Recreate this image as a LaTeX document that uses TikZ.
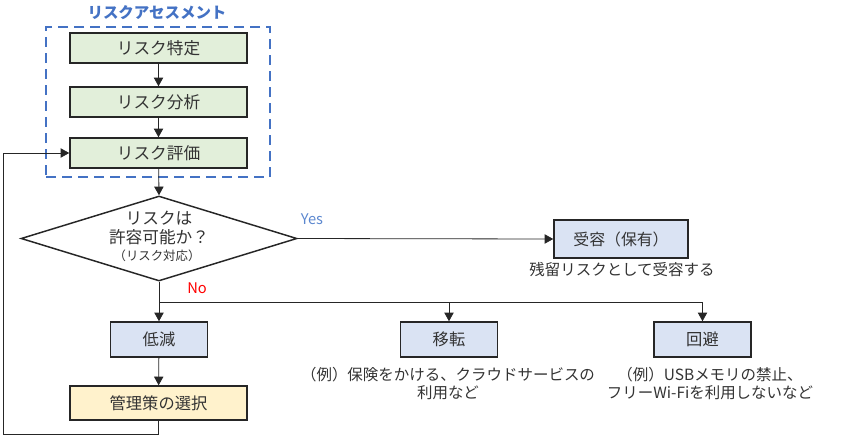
\documentclass[tikz,border=0pt]{standalone}
\usepackage{fontspec}
\setmainfont{Noto Sans CJK JP}
\usetikzlibrary{arrows.meta,shapes.geometric}
\definecolor{txt}{HTML}{333333}
\definecolor{edge}{HTML}{262626}
\definecolor{lgreen}{HTML}{E2EFDA}
\definecolor{lblue}{HTML}{DAE3F3}
\definecolor{lyellow}{HTML}{FFF2CC}
\definecolor{asmblue}{HTML}{4472C4}
\definecolor{yesblue}{HTML}{5B87CF}
\begin{document}
\begin{tikzpicture}[x=0.75pt,y=-0.75pt,
  every node/.style={text=txt, inner sep=0pt},
  gbox/.style={draw=edge, line width=1.1pt, fill=lgreen, minimum width=132.75pt, minimum height=22.5pt, font=\fontsize{12.5pt}{15pt}\selectfont},
  bbox/.style={draw=edge, line width=1.1pt, fill=lblue, minimum width=72.75pt, minimum height=26.25pt, font=\fontsize{12.2pt}{15pt}\selectfont},
  ybox/.style={draw=edge, line width=1.1pt, fill=lyellow, minimum width=132.75pt, minimum height=25.5pt, font=\fontsize{12.2pt}{15pt}\selectfont},
  note/.style={font=\fontsize{11.6pt}{13.5pt}\selectfont, align=center},
  conn/.style={draw=edge, line width=0.6pt, -{Triangle[length=6.5pt,width=7pt]}},
  plain/.style={draw=edge, line width=0.6pt},
  asm/.style={draw=asmblue, line width=1.8pt, dash pattern=on 7.5pt off 4.5pt, minimum width=168pt, minimum height=112.5pt}
]
\useasboundingbox (0,0) rectangle (849,437);
% assessment frame
\node[asm] (frame) at (158,102) {};
\node[text=asmblue, font=\bfseries\fontsize{11.6pt}{14pt}\selectfont] (ttl) at (157,13) {リスクアセスメント};
% green boxes
\node[gbox] (ident) at (158.5,48) {リスク特定};
\node[gbox] (anal) at (158.5,102) {リスク分析};
\node[gbox] (eval) at (158.5,153) {リスク評価};
% diamond
\node[diamond, draw=edge, line width=1.1pt, fill=white, minimum width=207pt, minimum height=63.75pt, inner sep=0pt] (dia) at (159,238.5) {};
\node[font=\fontsize{12.5pt}{15pt}\selectfont] (d1) at (159,218) {リスクは};
\node[font=\fontsize{12.5pt}{15pt}\selectfont] (d2) at (159,237) {許容可能か？};
\node[font=\fontsize{9.3pt}{11pt}\selectfont] (d3) at (157,256) {（リスク対応）};
% accept
\node[bbox, minimum width=100.5pt, minimum height=28.5pt, font=\fontsize{11.9pt}{14pt}\selectfont] (acc) at (621,239) {受容（保有）};
\node[note] (accn) at (622,270) {残留リスクとして受容する};
\node[text=yesblue, font=\fontsize{11pt}{13pt}\selectfont] (yes) at (312,219) {Yes};
\node[text=red, font=\fontsize{11pt}{13pt}\selectfont] (no) at (197,288) {No};
% treatment boxes
\node[bbox] (low) at (159,339.5) {低減};
\node[bbox] (trans) at (449,339.5) {移転};
\node[bbox] (avoid) at (702.5,339.5) {回避};
\node[note] (transn) at (448,384) {（例）保険をかける、クラウドサービスの\\利用など};
\node[note] (avoidn) at (710,384) {（例）USBメモリの禁止、\\フリーWi-Fiを利用しないなど};
\node[ybox] (sel) at (158.5,403) {管理策の選択};
% connectors
\draw[conn] (ident) -- (anal);
\draw[conn] (anal) -- (eval);
\draw[conn] (eval) -- (dia.north);
\draw[conn] (dia.east) -- (acc.west);
\coordinate (br) at (159,302);
\draw[conn] (dia.south) -- (low.north);
\draw[conn] (br) -| (trans.north);
\draw[conn] (br) -| (avoid.north);
\draw[conn] (low) -- (sel);
\coordinate (fbl) at (3,434);
\draw[conn] (sel.south) |- (fbl) |- (eval.west);
\end{tikzpicture}
\end{document}
